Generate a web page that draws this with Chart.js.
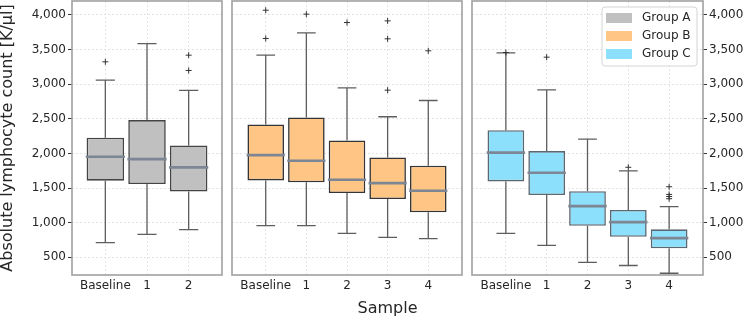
<!DOCTYPE html>
<html>
<head>
<meta charset="utf-8">
<script src="https://cdn.jsdelivr.net/npm/chart.js@4.4.1/dist/chart.umd.min.js"></script>
<style>
  body { margin: 0; background: #fff; }
  #wrap { position: relative; width: 744px; height: 319px; overflow: hidden; font-family: "DejaVu Sans", sans-serif; }
  canvas { position: absolute; top: 0; }
  #xtitle { position: absolute; left: 0; width: 775px; top: 300px; text-align: center; font-size: 16px; line-height: 16px; color: #262626; }
</style>
</head>
<body>
<div id="wrap">
  <canvas id="panelA" width="224" height="319" style="left:0px"></canvas>
  <canvas id="panelB" width="234" height="319" style="left:230px"></canvas>
  <canvas id="panelC" width="274" height="319" style="left:470px"></canvas>
  <div id="xtitle">Sample</div>
</div>
<script>
const labelsA = ['Baseline', '1', '2'];
const labelsBC = ['Baseline', '1', '2', '3', '4'];
const groups = ['Group A', 'Group B', 'Group C'];
const yTicks = [500, 1000, 1500, 2000, 2500, 3000, 3500, 4000];

// box stats: whisker low, q1, median, q3, whisker high
const lowA = [711, 832, 899];
const q1A = [1606, 1558, 1452];
const medA = [1952, 1918, 1798];
const q3A = [2226, 2481, 2115];
const highA = [3058, 3586, 2909];
const outA = [[3322], [], [3418, 3197]];

const lowB = [957, 957, 846, 788, 769];
const q1B = [1610, 1582, 1428, 1341, 1149];
const medB = [1976, 1894, 1620, 1572, 1461];
const q3B = [2418, 2519, 2187, 1942, 1822];
const highB = [3418, 3740, 2947, 2529, 2764];
const outB = [[4067, 3659], [4010], [3889], [3913, 3654, 2913], [3481]];

const lowC = [846, 673, 427, 382, 270];
const q1C = [1596, 1399, 956, 796, 630];
const medC = [2010, 1721, 1238, 1009, 778];
const q3C = [2336, 2034, 1454, 1185, 904];
const highC = [3452, 2918, 2207, 1748, 1232];
const outC = [[3457], [3389], [], [1800], [1519, 1408, 1378, 1346]];

const colors = ['#c0c0c0', '#ffc585', '#8ce0fb'];
const edges = ['#444444', '#353535', '#5c6870'];
const textColor = '#262626';
const gridColor = '#dedede';

Chart.defaults.font.family = '"DejaVu Sans", sans-serif';
Chart.defaults.font.size = 12;
Chart.defaults.color = textColor;

const boxExtras = {
    id: 'boxExtras',
    beforeDatasetsDraw(chart, args, opts) {
        const xs = chart.scales.x, ys = chart.scales.y, ctx = chart.ctx;
        const cap = xs.getPixelForValue(0.23) - xs.getPixelForValue(0);
        ctx.save();
        ctx.strokeStyle = '#5e5e5e';
        ctx.lineWidth = 1.3;
        opts.low.forEach((lo, i) => {
            const x = xs.getPixelForValue(i);
            ctx.beginPath();
            ctx.moveTo(x, ys.getPixelForValue(opts.high[i]));
            ctx.lineTo(x, ys.getPixelForValue(opts.q3[i]));
            ctx.moveTo(x, ys.getPixelForValue(opts.q1[i]));
            ctx.lineTo(x, ys.getPixelForValue(lo));
            ctx.moveTo(x - cap, ys.getPixelForValue(opts.high[i]));
            ctx.lineTo(x + cap, ys.getPixelForValue(opts.high[i]));
            ctx.moveTo(x - cap, ys.getPixelForValue(lo));
            ctx.lineTo(x + cap, ys.getPixelForValue(lo));
            ctx.stroke();
        });
        ctx.restore();
    },
    afterDatasetsDraw(chart, args, opts) {
        const xs = chart.scales.x, ys = chart.scales.y, ctx = chart.ctx;
        const half = xs.getPixelForValue(0.47) - xs.getPixelForValue(0);
        ctx.save();
        ctx.strokeStyle = '#7c8694';
        ctx.lineWidth = 2.7;
        opts.med.forEach((m, i) => {
            const x = xs.getPixelForValue(i);
            const y = ys.getPixelForValue(m);
            ctx.beginPath();
            ctx.moveTo(x - half, y);
            ctx.lineTo(x + half, y);
            ctx.stroke();
        });
        ctx.restore();
    },
    afterDraw(chart, args, opts) {
        const a = chart.chartArea, ctx = chart.ctx;
        ctx.save();
        ctx.strokeStyle = '#a0a0a0';
        ctx.lineWidth = 1.6;
        ctx.strokeRect(a.left, a.top, a.right - a.left, a.bottom - a.top);
        if (opts.legend) {
            const w = 95, h = 59;
            const lx = a.right - 6 - w, ly = a.top + 6;
            ctx.fillStyle = 'rgba(255,255,255,0.85)';
            ctx.strokeStyle = '#d4d4d4';
            ctx.lineWidth = 1;
            ctx.beginPath();
            ctx.roundRect(lx, ly, w, h, 3);
            ctx.fill();
            ctx.stroke();
            ctx.font = '12px "DejaVu Sans"';
            ctx.textBaseline = 'middle';
            groups.forEach((g, k) => {
                const cy = ly + 11 + k * 18;
                ctx.fillStyle = colors[k];
                ctx.fillRect(lx + 4, cy - 5, 26, 10);
                ctx.fillStyle = textColor;
                ctx.fillText(g, lx + 40, cy);
            });
        }
        ctx.restore();
    }
};

function makePanel(id, labels, low, q1, med, q3, high, out, k, side, xmin) {
    const boxes = labels.map((l, i) => ({x: i, y: [q1[i], q3[i]]}));
    const fliers = [];
    out.forEach((vals, i) => vals.forEach(v => fliers.push({x: i, y: v})));

    const yAxis = {
        type: 'linear',
        position: side === 'right' ? 'right' : 'left',
        min: 245,
        max: 4200,
        afterBuildTicks: s => { s.ticks = yTicks.map(v => ({value: v})); },
        ticks: {
            display: side !== 'none',
            padding: 2,
            color: textColor,
            callback: v => v.toLocaleString('en-US')
        },
        grid: {
            color: gridColor,
            lineWidth: 0.8,
            drawTicks: side !== 'none',
            tickLength: 4,
            tickColor: '#333',
            tickWidth: 1
        },
        border: {display: false, dash: [2, 2]},
        title: {
            display: side === 'left',
            text: 'Absolute lymphocyte count [K/µl]',
            font: {size: 16, lineHeight: 1},
            color: textColor,
            padding: 0
        },
        afterFit: s => {
            s.width = side === 'left' ? 72 : side === 'right' ? 41 : 2;
            s.paddingTop = 0;
            s.paddingBottom = 0;
        }
    };

    new Chart(document.getElementById(id), {
        type: 'bar',
        data: {
            datasets: [{
                type: 'bar',
                data: boxes,
                backgroundColor: colors[k],
                borderColor: edges[k],
                borderWidth: 1.6,
                borderSkipped: false,
                barPercentage: 0.9,
                categoryPercentage: 1
            }, {
                type: 'scatter',
                data: fliers,
                pointStyle: 'cross',
                radius: 3,
                borderColor: '#333',
                borderWidth: 1,
                clip: false
            }]
        },
        options: {
            responsive: false,
            animation: false,
            layout: {
                autoPadding: false,
                padding: {top: 1, left: side === 'right' ? 2 : 0, right: side === 'right' ? 0 : 2, bottom: 0}
            },
            plugins: {
                legend: {display: false},
                tooltip: {enabled: false},
                boxExtras: {low, q1, med, q3, high, legend: side === 'right'}
            },
            scales: {
                x: {
                    type: 'linear',
                    offset: false,
                    min: xmin,
                    max: labels.length - 1 - xmin,
                    afterBuildTicks: s => { s.ticks = labels.map((l, i) => ({value: i})); },
                    ticks: {
                        autoSkip: false,
                        maxRotation: 0,
                        padding: 4,
                        color: textColor,
                        callback: v => labels[v] ?? ''
                    },
                    grid: {color: gridColor, lineWidth: 0.8, drawTicks: false, offset: false},
                    border: {display: false, dash: [2, 2]},
                    afterFit: s => {
                        s.height = 44;
                        s.paddingLeft = 0;
                        s.paddingRight = 0;
                    }
                },
                y: yAxis
            }
        },
        plugins: [boxExtras]
    });
}

makePanel('panelA', labelsA, lowA, q1A, medA, q3A, highA, outA, 0, 'left', -0.8);
makePanel('panelB', labelsBC, lowB, q1B, medB, q3B, highB, outB, 1, 'none', -0.83);
makePanel('panelC', labelsBC, lowC, q1C, medC, q3C, highC, outC, 2, 'right', -0.83);
</script>
</body>
</html>
